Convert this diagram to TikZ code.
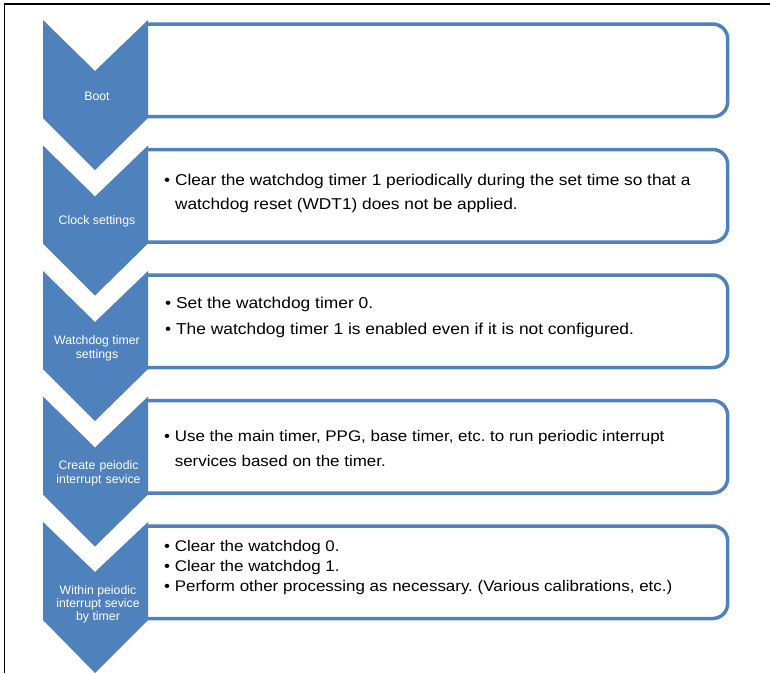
\documentclass[tikz,border=0pt]{standalone}
\usepackage{fontspec}
\setmainfont{Liberation Sans}
\newfontfamily\boxfont{Liberation Sans}[FakeStretch=1.1]
\definecolor{stepblue}{RGB}{79,129,189}
\frenchspacing
\begin{document}
\begin{tikzpicture}[x=1pt,y=-1pt,
	chevron/.style={fill=stepblue},
	stepbox/.style={draw=stepblue,line width=3.5pt,rounded corners=15pt,fill=white},
	steplabel/.style={text=white,align=center,inner sep=0,font=\fontsize{12.3}{14}\selectfont},
	boxtext/.style n args={2}{anchor=west,align=left,inner sep=0,font=\boxfont\fontsize{#1}{#2}\selectfont}]
	\useasboundingbox (0,0) rectangle (770,673);
	% Frame
	\draw[line width=2.3pt] (4.5,4) -- (770,4) ;
	\draw[line width=1.3pt] (4.7,3) -- (4.7,673) ;
	% Boot
	\draw[stepbox] (146,24) -- (727.7,24) -- (727.7,116.7) -- (146,116.7) ;
	\fill[chevron] (43,20) -- ++(52,51) -- ++(53,-51) -- ++(0,98) -- ++(-53,52) -- ++(-52,-52) -- cycle ;
	\node[steplabel] (boot) at (97,96) {Boot} ;
	% Clock settings
	\draw[stepbox] (146,149.5) -- (727.7,149.5) -- (727.7,242) -- (146,242) ;
	\fill[chevron] (43,145.5) -- ++(52,51) -- ++(53,-51) -- ++(0,98) -- ++(-53,52) -- ++(-52,-52) -- cycle ;
	\node[steplabel] (clock) at (97,221) {Clock settings} ;
	\node[boxtext={15.7}{24}] (clocktext) at (164,193)
		{• Clear the watchdog timer 1 periodically during the set time so that a\\
		\phantom{• }watchdog reset (WDT1) does not be applied.} ;
	% Watchdog timer settings
	\draw[stepbox] (146,275) -- (727.7,275) -- (727.7,367.5) -- (146,367.5) ;
	\fill[chevron] (43,271) -- ++(52,51) -- ++(53,-51) -- ++(0,98) -- ++(-53,52) -- ++(-52,-52) -- cycle ;
	\node[steplabel] (wdt) at (97,348.5) {Watchdog timer\\settings} ;
	\node[boxtext={15.8}{26}] (wdttext) at (165,317)
		{• Set the watchdog timer 0.\\
		• The watchdog timer 1 is enabled even if it is not configured.} ;
	% Create periodic interrupt service
	\draw[stepbox] (146,400.5) -- (727.7,400.5) -- (727.7,493) -- (146,493) ;
	\fill[chevron] (43,396.5) -- ++(52,51) -- ++(53,-51) -- ++(0,98) -- ++(-53,52) -- ++(-52,-52) -- cycle ;
	\node[steplabel,text width=95pt] (create) at (98.5,473.5) {Create peiodic\\interrupt sevice} ;
	\node[boxtext={15.4}{25}] (createtext) at (164,448)
		{• Use the main timer, PPG, base timer, etc. to run periodic interrupt\\
		\phantom{• }services based on the timer.} ;
	% Within periodic interrupt service by timer
	\draw[stepbox] (146,526) -- (727.7,526) -- (727.7,618.5) -- (146,618.5) ;
	\fill[chevron] (43,522) -- ++(52,50) -- ++(53,-50) -- ++(0,98) -- ++(-53,53) -- ++(-52,-53) -- cycle ;
	\node[steplabel,font=\fontsize{12.3}{13}\selectfont] (within) at (98,604) {Within peiodic\\interrupt sevice\\by timer} ;
	\node[boxtext={15.4}{20}] (withintext) at (164,568)
		{• Clear the watchdog 0.\\
		• Clear the watchdog 1.\\
		• Perform other processing as necessary. (Various calibrations, etc.)} ;
\end{tikzpicture}
\end{document}
